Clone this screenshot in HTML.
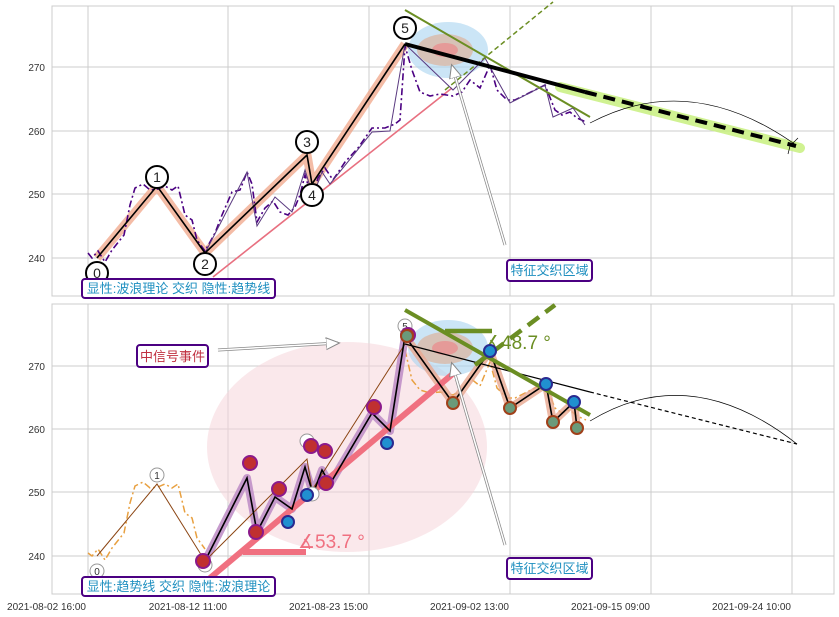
<!DOCTYPE html>
<html><head><meta charset="utf-8"><style>
body{margin:0;background:#fff}
svg{display:block;font-family:"Liberation Sans","Noto Sans CJK SC",sans-serif}
</style></head><body>
<svg width="839" height="617" viewBox="0 0 839 617" xmlns="http://www.w3.org/2000/svg">
<defs>
<marker id="ah" markerWidth="10" markerHeight="10" refX="8" refY="5" orient="auto"><path d="M0,1 L9,5 L0,9 Z" fill="#fff" stroke="#888" stroke-width="0.7"/></marker>
</defs>
<!-- panel frames -->
<rect x="52" y="6" width="782" height="290" fill="#fff" stroke="#ccc"/>
<rect x="52" y="304" width="782" height="290" fill="#fff" stroke="#ccc"/>
<g stroke="#ccc" stroke-width="1">
<line x1="88" y1="6" x2="88" y2="296"/><line x1="228" y1="6" x2="228" y2="296"/><line x1="369" y1="6" x2="369" y2="296"/><line x1="510" y1="6" x2="510" y2="296"/><line x1="651" y1="6" x2="651" y2="296"/><line x1="792" y1="6" x2="792" y2="296"/>
<line x1="52" y1="67" x2="834" y2="67"/><line x1="52" y1="131" x2="834" y2="131"/><line x1="52" y1="194" x2="834" y2="194"/><line x1="52" y1="258" x2="834" y2="258"/>
<line x1="88" y1="304" x2="88" y2="594"/><line x1="228" y1="304" x2="228" y2="594"/><line x1="369" y1="304" x2="369" y2="594"/><line x1="510" y1="304" x2="510" y2="594"/><line x1="651" y1="304" x2="651" y2="594"/><line x1="792" y1="304" x2="792" y2="594"/>
<line x1="52" y1="366" x2="834" y2="366"/><line x1="52" y1="429" x2="834" y2="429"/><line x1="52" y1="492" x2="834" y2="492"/><line x1="52" y1="556" x2="834" y2="556"/>
</g>
<g font-size="10" fill="#333" text-anchor="end">
<text x="45" y="71">270</text><text x="45" y="135">260</text><text x="45" y="198">250</text><text x="45" y="262">240</text>
<text x="45" y="370">270</text><text x="45" y="433">260</text><text x="45" y="496">250</text><text x="45" y="560">240</text>
<text x="86" y="610">2021-08-02 16:00</text><text x="227" y="610">2021-08-12 11:00</text><text x="368" y="610">2021-08-23 15:00</text><text x="509" y="610">2021-09-02 13:00</text><text x="650" y="610">2021-09-15 09:00</text><text x="791" y="610">2021-09-24 10:00</text>
</g>

<!-- TOP PANEL -->
<ellipse cx="448" cy="50" rx="40" ry="28" fill="#a8d4f0" opacity="0.6"/>
<ellipse cx="445" cy="50" rx="28" ry="16" fill="#d9b9a8" opacity="0.8"/>
<ellipse cx="445" cy="50" rx="13" ry="7" fill="#e89090" opacity="0.8"/>
<polyline points="97,258 157,186 205,253 307,155 312,184 405,44" fill="none" stroke="#f0a080" stroke-width="9" opacity="0.7" stroke-linejoin="round"/>
<line x1="560" y1="87" x2="800" y2="148" stroke="#c8f080" stroke-width="10" opacity="0.85" stroke-linecap="round"/>
<line x1="213" y1="277" x2="452" y2="88" stroke="#e87080" stroke-width="1.6"/>
<polyline points="88,253 92,258 98,251 105,262 112,250 124,235 130,205 135,188 143,184 150,190 158,189 165,186 172,190 178,186 185,215 192,220 197,240 205,251 215,233 222,215 232,192 240,190 247,172 252,184 257,222 265,208 273,201 280,212 288,215 295,207 300,195 305,175 312,198 318,178 325,168 333,180 345,162 358,148 372,128 385,128 395,124 400,120 405,46 412,70 420,92 430,96 440,94 453,96 462,92 470,80 480,88 490,65 497,90 507,100 515,100 525,95 535,90 545,85 555,110 562,115 570,112 577,118 586,122" fill="none" stroke="#4b0082" stroke-width="1.6" stroke-dasharray="7,3,2,3"/>
<polyline points="205,253 247,172 257,226 275,197 292,212 305,170 313,196 322,172 330,184 372,132 390,131 405,44 453,90 485,58 510,103 545,85 553,117 573,108 585,125" fill="none" stroke="#5a3a80" stroke-width="1"/>
<polyline points="97,258 157,186 205,253 307,155 312,184 405,44" fill="none" stroke="#000" stroke-width="1.6"/>
<line x1="405" y1="10" x2="590" y2="117" stroke="#6b8e23" stroke-width="2"/>
<line x1="445" y1="90" x2="553" y2="2" stroke="#6b8e23" stroke-width="1.5" stroke-dasharray="5,3"/>
<line x1="405" y1="44" x2="585" y2="92" stroke="#000" stroke-width="4"/>
<line x1="585" y1="92" x2="796" y2="146" stroke="#000" stroke-width="4" stroke-dasharray="12,7"/>
<path d="M590,123 Q690,70 796,145" fill="none" stroke="#000" stroke-width="0.7"/>
<path d="M790,146 l8,-8 M790,146 l-2,8" stroke="#000" stroke-width="0.7" fill="none"/>
<g fill="#fff" stroke="#000" stroke-width="2">
<circle cx="97" cy="273" r="11"/><circle cx="157" cy="177" r="11"/><circle cx="205" cy="264" r="11"/><circle cx="307" cy="142" r="11"/><circle cx="312" cy="195" r="11"/><circle cx="405" cy="28" r="11"/>
</g>
<g font-size="14" text-anchor="middle" fill="#222">
<text x="97" y="278">0</text><text x="157" y="182">1</text><text x="205" y="269">2</text><text x="307" y="147">3</text><text x="312" y="200">4</text><text x="405" y="33">5</text>
</g>
<line x1="505" y1="245" x2="452" y2="66" stroke="#888" stroke-width="3"/>
<line x1="505" y1="245" x2="452" y2="66" stroke="#fff" stroke-width="1.5" marker-end="url(#ah)"/>
<rect x="507" y="260" width="85" height="21" rx="3" fill="#fff" stroke="#4b0082" stroke-width="2"/>
<text x="549.5" y="275" font-size="13" fill="#2090c0" text-anchor="middle">特征交织区域</text>
<rect x="82" y="279" width="193" height="19" rx="3" fill="#fff" stroke="#4b0082" stroke-width="2"/>
<text x="178.5" y="293" font-size="13" fill="#2090c0" text-anchor="middle">显性:波浪理论 交织 隐性:趋势线</text>

<!-- BOTTOM PANEL -->
<ellipse cx="347" cy="447" rx="140" ry="105" fill="#f5d5da" opacity="0.55"/>
<ellipse cx="448" cy="348" rx="40" ry="28" fill="#a8d4f0" opacity="0.6"/>
<ellipse cx="445" cy="348" rx="28" ry="16" fill="#d9b9a8" opacity="0.8"/>
<ellipse cx="445" cy="348" rx="13" ry="7" fill="#e89090" opacity="0.8"/>
<polyline points="88,553 92,556 98,549 105,560 112,548 124,533 130,503 135,486 143,482 150,488 158,487 165,484 172,488 178,484 185,513 192,518 197,538 205,549" fill="none" stroke="#e8a040" stroke-width="1.5" stroke-dasharray="7,3,2,3"/>
<polyline points="405,350 412,380 420,390 430,393 440,392 453,395 462,390 470,378 480,386 490,362 497,388 507,398 515,398 525,393 535,388 545,383 555,408 562,413 570,410 577,416 586,420" fill="none" stroke="#e8a040" stroke-width="1.5" stroke-dasharray="7,3,2,3"/>
<polyline points="205,561 247,478 257,532 275,497 292,509 305,467 313,494 322,470 330,484 372,413 390,431 405,336" fill="none" stroke="#c090c8" stroke-width="8" opacity="0.9" stroke-linejoin="round"/>
<polyline points="405,336 453,403 490,351 510,408 546,384 553,422 574,402 577,428" fill="none" stroke="#e8a890" stroke-width="8" opacity="0.8" stroke-linejoin="round"/>
<line x1="210" y1="578" x2="455" y2="372" stroke="#f07080" stroke-width="6"/>
<line x1="243" y1="552" x2="306" y2="552" stroke="#f07080" stroke-width="6"/>
<text x="298" y="548" font-size="19" fill="#f07080">∡53.7 °</text>
<polyline points="97,556 157,484 205,561 307,459 312,490 405,344" fill="none" stroke="#8b4513" stroke-width="1"/>
<polyline points="205,561 247,478 257,532 275,497 292,509 305,467 313,494 322,470 330,484 372,413 390,431 405,336 453,403 490,351 510,408 546,384 553,422 574,402 577,428" fill="none" stroke="#000" stroke-width="1.6"/>
<line x1="405" y1="344" x2="590" y2="392" stroke="#000" stroke-width="1.2"/>
<line x1="590" y1="392" x2="797" y2="444" stroke="#000" stroke-width="1.2" stroke-dasharray="4,3"/>
<line x1="405" y1="310" x2="590" y2="415" stroke="#6b8e23" stroke-width="4"/>
<line x1="475" y1="365" x2="555" y2="305" stroke="#6b8e23" stroke-width="4.5" stroke-dasharray="14,8"/>
<line x1="445" y1="331" x2="492" y2="331" stroke="#6b8e23" stroke-width="4.5"/>
<text x="484" y="349" font-size="19" fill="#6b8e23">∡48.7 °</text>
<path d="M590,421 Q690,360 797,444" fill="none" stroke="#000" stroke-width="0.7"/>
<g fill="#fff" stroke="#999" stroke-width="1">
<circle cx="97" cy="571" r="7"/><circle cx="157" cy="475" r="7"/><circle cx="205" cy="565" r="7"/><circle cx="307" cy="441" r="7"/><circle cx="312" cy="494" r="7"/><circle cx="405" cy="326" r="7"/>
</g>
<g font-size="10" text-anchor="middle" fill="#333">
<text x="97" y="575">0</text><text x="157" y="479">1</text><text x="405" y="330">5</text>
</g>
<g fill="#c03030" stroke="#8b1a8b" stroke-width="2">
<circle cx="203" cy="561" r="7"/><circle cx="250" cy="463" r="7"/><circle cx="256" cy="532" r="7"/><circle cx="279" cy="489" r="7"/><circle cx="311" cy="446" r="7"/><circle cx="325" cy="451" r="7"/><circle cx="326" cy="483" r="7"/><circle cx="374" cy="407" r="7"/><circle cx="408" cy="335" r="7"/>
</g>
<g fill="#2090d0" stroke="#2a2a90" stroke-width="2">
<circle cx="288" cy="522" r="6"/><circle cx="307" cy="495" r="6"/><circle cx="387" cy="443" r="6"/><circle cx="490" cy="351" r="6"/><circle cx="546" cy="384" r="6"/><circle cx="574" cy="402" r="6"/>
</g>
<g fill="#6a9a7a" stroke="#a0401a" stroke-width="2">
<circle cx="407" cy="336" r="6"/><circle cx="453" cy="403" r="6"/><circle cx="510" cy="408" r="6"/><circle cx="553" cy="422" r="6"/><circle cx="577" cy="428" r="6"/>
</g>
<line x1="505" y1="545" x2="452" y2="364" stroke="#888" stroke-width="3"/>
<line x1="505" y1="545" x2="452" y2="364" stroke="#fff" stroke-width="1.5" marker-end="url(#ah)"/>
<line x1="218" y1="350" x2="338" y2="343" stroke="#888" stroke-width="3"/>
<line x1="218" y1="350" x2="338" y2="343" stroke="#fff" stroke-width="1.5" marker-end="url(#ah)"/>
<rect x="137" y="345" width="71" height="22" rx="3" fill="#fff" stroke="#4b0082" stroke-width="2"/>
<text x="172.5" y="361" font-size="13" fill="#c03040" text-anchor="middle">中信号事件</text>
<rect x="507" y="558" width="85" height="21" rx="3" fill="#fff" stroke="#4b0082" stroke-width="2"/>
<text x="549.5" y="573" font-size="13" fill="#2090c0" text-anchor="middle">特征交织区域</text>
<rect x="82" y="577" width="193" height="19" rx="3" fill="#fff" stroke="#4b0082" stroke-width="2"/>
<text x="178.5" y="591" font-size="13" fill="#2090c0" text-anchor="middle">显性:趋势线 交织 隐性:波浪理论</text>
</svg>
</body></html>
